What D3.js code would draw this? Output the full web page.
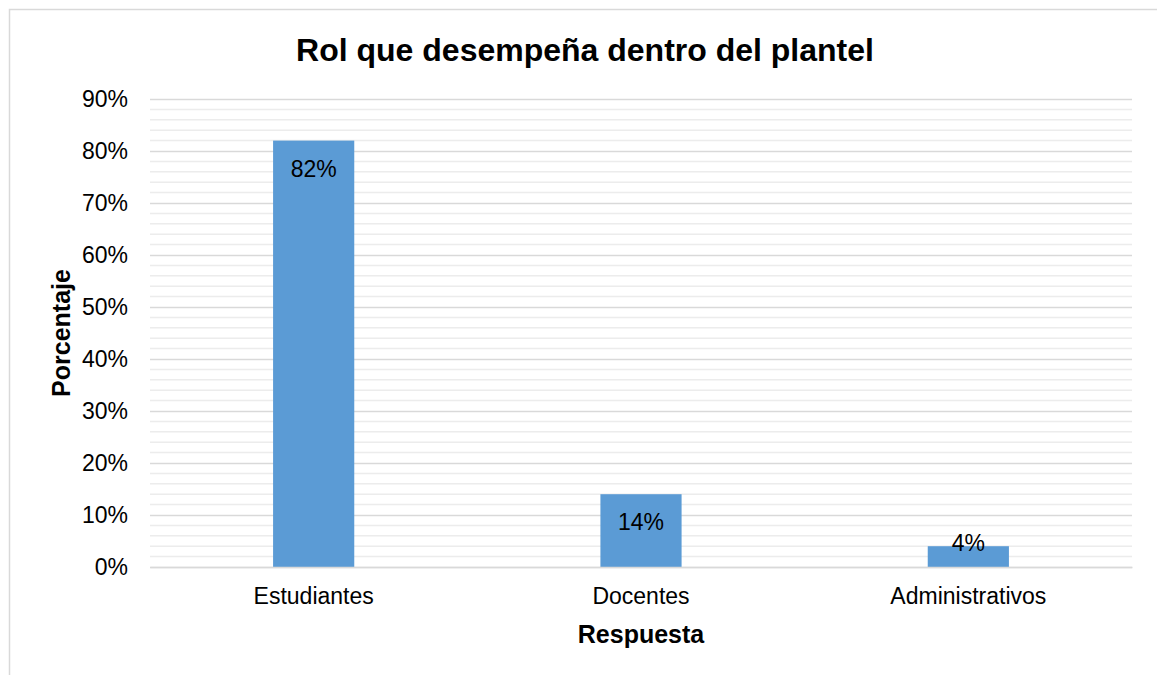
<!DOCTYPE html>
<html>
<head>
<meta charset="utf-8">
<script src="https://cdn.jsdelivr.net/npm/d3@7"></script>
<style>
  body { margin: 0; background: #fff; }
  text { font-family: "Liberation Sans", Arial, sans-serif; fill: #000; }
</style>
</head>
<body>
<div id="chart"></div>
<script>
// datos
var categories = ['Estudiantes', 'Docentes', 'Administrativos'];
var values = [0.82, 0.14, 0.04];
var major_ticks = [0, 0.1, 0.2, 0.3, 0.4, 0.5, 0.6, 0.7, 0.8, 0.9];
var minor_ticks = d3.range(0, 46).map(function (i) { return i / 50; });

var chart_width = 1157;
var chart_height = 675;
var plot = { left: 150, right: 1132, top: 99, bottom: 567 };

var svg = d3.select('#chart')
    .append('svg')
    .attr('width', chart_width)
    .attr('height', chart_height);

// borde
svg.append('rect')
    .attr('x', 9.5)
    .attr('y', 9.5)
    .attr('width', chart_width + 20)
    .attr('height', chart_height + 20)
    .attr('fill', 'none')
    .attr('stroke', '#d9d9d9')
    .attr('stroke-width', 1.5);

// escalas
var x_scale = d3.scaleBand()
    .domain(categories)
    .range([plot.left, plot.right])
    .paddingInner(0.752)
    .paddingOuter(0.376);

var y_scale = d3.scaleLinear()
    .domain([0, 0.9])
    .range([plot.bottom, plot.top]);

// lineas menores
svg.append('g')
    .selectAll('line')
    .data(minor_ticks.filter(function (d) { return Math.round(d * 100) % 10 !== 0; }))
    .enter()
    .append('line')
    .attr('x1', plot.left)
    .attr('x2', plot.right)
    .attr('y1', function (d) { return y_scale(d); })
    .attr('y2', function (d) { return y_scale(d); })
    .attr('stroke', '#ececec')
    .attr('stroke-width', 1.5);

// eje y
var y_axis = d3.axisLeft(y_scale)
    .tickValues(major_ticks)
    .tickFormat(d3.format('.0%'))
    .tickSize(plot.left - plot.right)
    .tickPadding(22);

svg.append('g')
    .attr('transform', 'translate(' + plot.left + ',0)')
    .call(y_axis)
    .call(function (g) {
        g.select('.domain').remove();
        g.selectAll('line').attr('stroke', '#d9d9d9').attr('stroke-width', 1.5);
        g.selectAll('text')
            .style('font-family', '"Liberation Sans", Arial, sans-serif')
            .style('font-size', '23px')
            .attr('fill', '#000');
    });

// barras
svg.selectAll('rect.bar')
    .data(values)
    .enter()
    .append('rect')
    .attr('class', 'bar')
    .attr('x', function (d, i) { return x_scale(categories[i]); })
    .attr('y', function (d) { return y_scale(d); })
    .attr('width', x_scale.bandwidth())
    .attr('height', function (d) { return plot.bottom - y_scale(d); })
    .attr('fill', '#5b9bd5');

// eje x
var x_axis = d3.axisBottom(x_scale).tickSize(0).tickPadding(21);
svg.append('g')
    .attr('transform', 'translate(0,' + plot.bottom + ')')
    .call(x_axis)
    .call(function (g) {
        g.select('.domain').attr('stroke', '#d9d9d9').attr('stroke-width', 1.5);
        g.selectAll('text')
            .style('font-family', '"Liberation Sans", Arial, sans-serif')
            .style('font-size', '23px')
            .attr('fill', '#000');
    });

// rotulos
svg.selectAll('text.label')
    .data(values)
    .enter()
    .append('text')
    .attr('class', 'label')
    .text(function (d) { return d3.format('.0%')(d); })
    .attr('x', function (d, i) { return x_scale(categories[i]) + x_scale.bandwidth() / 2; })
    .attr('y', function (d) { return Math.min(y_scale(d) + 36, plot.bottom - 16); })
    .attr('text-anchor', 'middle')
    .style('font-size', '23px');

// titulos
svg.append('text')
    .text('Rol que desempeña dentro del plantel')
    .attr('x', 585)
    .attr('y', 61)
    .attr('text-anchor', 'middle')
    .style('font-size', '32px')
    .style('font-weight', 'bold');

svg.append('text')
    .text('Respuesta')
    .attr('x', 641)
    .attr('y', 643)
    .attr('text-anchor', 'middle')
    .style('font-size', '25px')
    .style('font-weight', 'bold');

svg.append('text')
    .text('Porcentaje')
    .attr('transform', 'translate(70,333) rotate(-90)')
    .attr('text-anchor', 'middle')
    .style('font-size', '25px')
    .style('font-weight', 'bold');
</script>
</body>
</html>
